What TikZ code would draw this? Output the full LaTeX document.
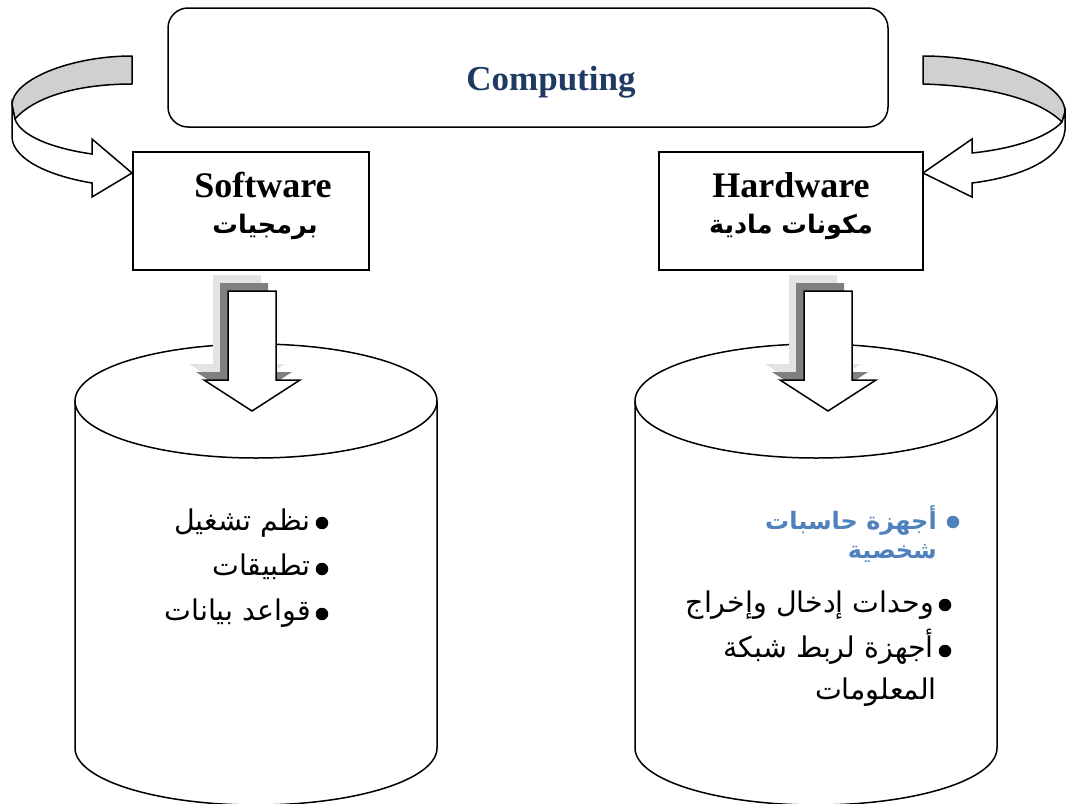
\documentclass[tikz,border=0pt]{standalone}
\usepackage{fontspec}
\setmainfont{Liberation Serif}
\newfontfamily\arabicfont[Script=Arabic]{DejaVu Sans}
\TeXXeTstate=1
\definecolor{titleblue}{HTML}{1F3A63}
\definecolor{itemblue}{HTML}{4F81BD}
\definecolor{shadelight}{HTML}{E3E3E3}
\definecolor{shadedark}{HTML}{808080}
\definecolor{bandgray}{HTML}{D0D0D0}
\begin{document}
\begin{tikzpicture}[x=1pt,y=-1pt,
  outline/.style={draw=black,line width=1.5pt},
  boxnode/.style={outline,fill=white},
  entitle/.style={inner sep=0pt,anchor=base,font=\fontsize{36}{40}\selectfont\bfseries},
  artitle/.style={inner sep=0pt,anchor=base,font=\fontsize{25.5}{30}\selectfont\arabicfont\bfseries},
  item/.style={inner sep=0pt,anchor=base east,font=\fontsize{28.5}{32}\selectfont\arabicfont},
  blueitem/.style={item,text=itemblue,font=\fontsize{24}{28}\selectfont\arabicfont\bfseries},
  dot/.style={circle,fill=black,inner sep=0pt,minimum size=12.5pt},
  downarr/.pic={\path[pic actions] (-24,0) -- (24,0) -- (24,89) -- (48,89) -- (0,120) -- (-48,89) -- (-24,89) -- cycle;}
]
\useasboundingbox (0,0) rectangle (1070,803);
\clip (0,0) rectangle (1070,803);
\fill[white] (0,0) rectangle (1070,803);

% top box
\draw[outline,rounded corners=20pt] (168,8) rectangle (888,127);
\node[inner sep=0pt,anchor=base,text=titleblue,font=\fontsize{35}{40}\selectfont\bfseries] (computing) at (551,90) {Computing};

% software / hardware boxes
\draw[boxnode] (133,152) rectangle (369,270);
\draw[boxnode] (659,152) rectangle (923,270);
\node[entitle] (software) at (263,197) {Software};
\node[artitle] (softar) at (265,233) {\beginR برمجيات\endR};
\node[entitle] (hardware) at (791,197) {Hardware};
\node[artitle] (hardar) at (791,233) {\beginR مكونات مادية\endR};

% left curved arrow
\draw[outline,fill=bandgray,line join=round] (132,56) .. controls (70,56) and (12,80) .. (12,105) -- (15,119) .. controls (35,96) and (80,84) .. (132,84) -- cycle;
\draw[outline,fill=white,line join=miter] (12,105) -- (12,138) .. controls (14,160) and (50,176) .. (92,183) -- (92,197) -- (132,173) -- (92,139) -- (92,154) .. controls (50,148) and (20,135) .. (15,119) -- cycle;

% right curved arrow
\draw[outline,fill=bandgray,line join=round] (923,56) .. controls (990,56) and (1065,80) .. (1065,112) -- (1062,122) .. controls (1040,100) and (990,86) .. (923,84) -- cycle;
\draw[outline,fill=white,line join=miter] (1065,112) -- (1065,130) .. controls (1062,160) and (1020,177) .. (972,183) -- (972,197) -- (923,173) -- (972,139) -- (972,153) .. controls (1020,148) and (1050,135) .. (1062,122) -- cycle;

% cylinders
\draw[outline,fill=white] (75,401) -- (75,748) arc[start angle=180,end angle=0,x radius=181,y radius=57] -- (437,401);
\draw[outline,fill=white] (256,401) ellipse[x radius=181,y radius=57];
\draw[outline,fill=white] (635,401) -- (635,748) arc[start angle=180,end angle=0,x radius=181,y radius=57] -- (997,401);
\draw[outline,fill=white] (816,401) ellipse[x radius=181,y radius=57];

% down block arrows with shadows
\pic[fill=shadelight] at (237,275) {downarr};
\pic[fill=shadedark] at (244,283) {downarr};
\pic[fill=white,draw=black,line width=1.5pt] at (252,291) {downarr};
\pic[fill=shadelight] at (813,275) {downarr};
\pic[fill=shadedark] at (820,283) {downarr};
\pic[fill=white,draw=black,line width=1.5pt] at (828,291) {downarr};

% left list
\node[dot] (lb1) at (322,523) {};
\node[dot] (lb2) at (322,569) {};
\node[dot] (lb3) at (322,614) {};
\node[item] (l1) at (311,530) {\beginR نظم تشغيل\endR};
\node[item] (l2) at (311,575) {\beginR تطبيقات\endR};
\node[item] (l3) at (311,620) {\beginR قواعد بيانات\endR};

% right list
\node[dot,fill=itemblue] (rb1) at (953,522) {};
\node[dot] (rb2) at (945,605) {};
\node[dot] (rb3) at (945,651) {};
\node[blueitem] (r1) at (937,529) {\beginR أجهزة حاسبات\endR};
\node[blueitem] (r1b) at (937,558) {\beginR شخصية\endR};
\node[item] (r2) at (934,612) {\beginR وحدات إدخال وإخراج\endR};
\node[item] (r3) at (934,657) {\beginR أجهزة لربط شبكة\endR};
\node[item] (r3b) at (937,699) {\beginR المعلومات\endR};
\end{tikzpicture}
\end{document}
